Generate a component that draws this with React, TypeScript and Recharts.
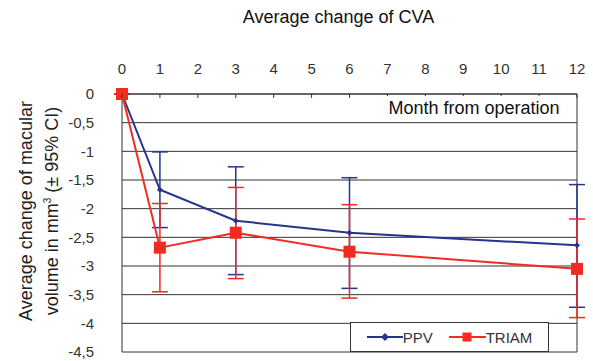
import React from "react";
import {
  CartesianGrid, ErrorBar, Line, LineChart, ReferenceLine, XAxis, YAxis,
} from "recharts";

const months = [0, 1, 3, 6, 12];
const ppv = [0, -1.67, -2.21, -2.42, -2.64];
const ppvLo = [0, -2.33, -3.15, -3.39, -3.72];
const ppvHi = [0, -1.01, -1.27, -1.46, -1.58];
const triam = [0, -2.68, -2.42, -2.75, -3.05];
const triamLo = [0, -3.45, -3.22, -3.56, -3.9];
const triamHi = [0, -1.91, -1.63, -1.93, -2.18];
const xTicks = [0, 1, 2, 3, 4, 5, 6, 7, 8, 9, 10, 11, 12];
const yTicks = [0, -0.5, -1, -1.5, -2, -2.5, -3, -3.5, -4, -4.5];

const BLUE = "#27348b";
const RED = "#f22a22";
const GRID = "#333";
const FONT = "'Liberation Sans', Arial, sans-serif";

const data = months.map((m, i) => ({
  month: m,
  ppv: ppv[i],
  ppvErr: [ppv[i] - ppvLo[i], ppvHi[i] - ppv[i]],
  triam: triam[i],
  triamErr: [triam[i] - triamLo[i], triamHi[i] - triam[i]],
}));

const Diamond = (props: any) => {
  const { cx, cy, r = 5.5, fill } = props;
  if (cx == null || cy == null) return null;
  return <polygon points={`${cx},${cy - r} ${cx + r},${cy} ${cx},${cy + r} ${cx - r},${cy}`} fill={fill} />;
};

const Square = (props: any) => {
  const { cx, cy, s = 12, fill } = props;
  if (cx == null || cy == null) return null;
  return <rect x={cx - s / 2} y={cy - s / 2} width={s} height={s} fill={fill} />;
};

const TopTick = (props: any) => {
  const { x, y, payload } = props;
  return (
    <g>
      <line x1={x} x2={x} y1={y} y2={y + 4} stroke={GRID} />
      <text x={x} y={y - 20} textAnchor="middle" fontSize={15} fill="#333" fontFamily={FONT}>
        {payload.value}
      </text>
    </g>
  );
};

const fmt = (v: number) => String(v).replace(".", ",");

const LegendBox = () => (
  <div
    style={{
      position: "absolute", left: 350, top: 322, width: 199, height: 30,
      border: "1px solid #333", background: "#fff", boxSizing: "border-box",
      display: "flex", alignItems: "center", justifyContent: "center", gap: 16,
      fontFamily: FONT, fontSize: 15, color: "#333",
    }}
  >
    <span style={{ display: "flex", alignItems: "center" }}>
      <svg width={36} height={12}>
        <line x1={0} x2={36} y1={6} y2={6} stroke={BLUE} strokeWidth={2} />
        <Diamond cx={18} cy={6} r={4} fill={BLUE} />
      </svg>
      PPV
    </span>
    <span style={{ display: "flex", alignItems: "center" }}>
      <svg width={37} height={12}>
        <line x1={0} x2={37} y1={6} y2={6} stroke={RED} strokeWidth={2} />
        <Square cx={18} cy={6} s={9} fill={RED} />
      </svg>
      TRIAM
    </span>
  </div>
);

export default function App() {
  return (
    <div style={{ position: "absolute", left: 0, top: 0, width: 593, height: 361, background: "#fff", fontFamily: FONT }}>
      <div style={{ position: "absolute", left: 0, width: 593, top: 7, textAlign: "center", paddingLeft: 84, boxSizing: "border-box", fontSize: 18, color: "#111" }}>
        Average change of CVA
      </div>
      <LineChart width={593} height={361} data={data} margin={{ top: 64, right: 16, left: 60, bottom: 9 }}>
        <CartesianGrid stroke={GRID} vertical={false} />
        <XAxis
          dataKey="month"
          type="number"
          orientation="top"
          domain={[0, 12]}
          ticks={xTicks}
          height={30}
          tickSize={0}
          tickMargin={0}
          tickLine={false}
          axisLine={{ stroke: GRID }}
          tick={<TopTick />}
          interval={0}
        />
        <YAxis
          type="number"
          domain={[-4.5, 0]}
          ticks={yTicks}
          width={62}
          interval={0}
          tickLine={false}
          axisLine={{ stroke: GRID }}
          tickMargin={22}
          tickFormatter={fmt}
          tick={{ fontSize: 15, fill: "#333", fontFamily: FONT }}
        />
        <ReferenceLine x={12} stroke={GRID} />
        <Line
          dataKey="ppv"
          type="linear"
          stroke={BLUE}
          strokeWidth={2}
          dot={<Diamond fill={BLUE} />}
          activeDot={false}
          isAnimationActive={false}
        >
          <ErrorBar dataKey="ppvErr" direction="y" width={8} stroke={BLUE} strokeWidth={1.5} />
        </Line>
        <Line
          dataKey="triam"
          type="linear"
          stroke={RED}
          strokeWidth={2}
          dot={<Square fill={RED} />}
          activeDot={false}
          isAnimationActive={false}
        >
          <ErrorBar dataKey="triamErr" direction="y" width={8} stroke={RED} strokeWidth={1.5} />
        </Line>
      </LineChart>
      <LegendBox />
      <div style={{ position: "absolute", left: 372, top: 96, width: 204, height: 25, background: "#fff", fontSize: 18, color: "#111", textAlign: "center", lineHeight: "24px" }}>
        Month from operation
      </div>
      <div
        style={{
          position: "absolute", left: 39, top: 211, width: 260, transform: "translate(-50%, -50%) rotate(-90deg)",
          textAlign: "center", fontSize: 18, lineHeight: "22px", color: "#222",
        }}
      >
        Average change of macular
        <br />
        volume in mm<sup style={{ fontSize: 10 }}>3</sup> (± 95% CI)
      </div>
    </div>
  );
}
